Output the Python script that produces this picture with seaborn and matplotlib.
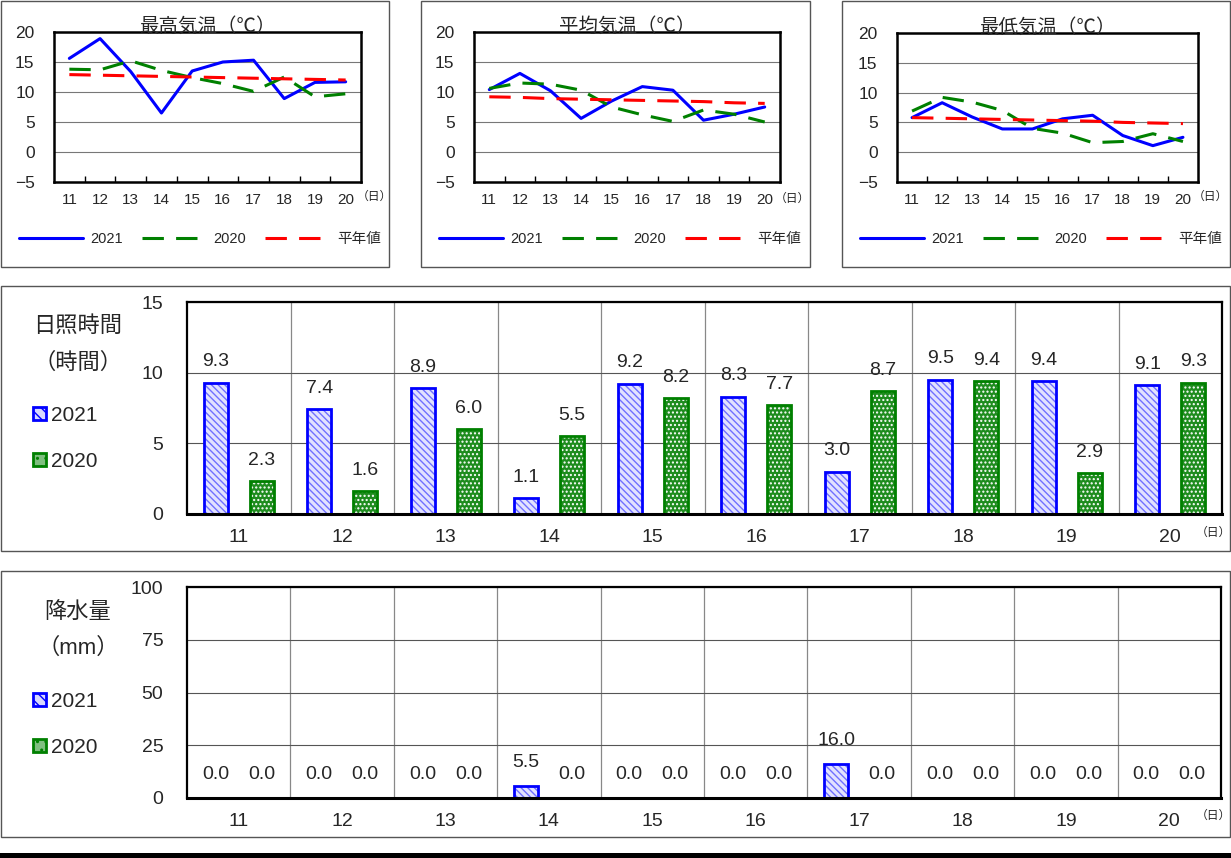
import matplotlib
matplotlib.use('Agg')
import pandas as pd
import matplotlib.pyplot as plt
import seaborn as sns
from matplotlib.patches import Rectangle, Patch

# --- dados (11日〜20日) ---
days = list(range(11, 21))

max_2021 = [15.6, 18.9, 13.4, 6.5, 13.5, 15.0, 15.3, 8.9, 11.6, 11.7]
max_2020 = [13.8, 13.7, 15.2, 13.6, 12.4, 11.4, 10.1, 12.5, 9.2, 9.7]
max_norm = [12.9, 12.8, 12.7, 12.6, 12.5, 12.4, 12.3, 12.2, 12.1, 12.0]

avg_2021 = [10.4, 13.1, 10.2, 5.6, 8.5, 10.9, 10.3, 5.3, 6.3, 7.5]
avg_2020 = [10.6, 11.5, 11.3, 10.3, 7.5, 6.2, 5.1, 7.0, 6.3, 5.0]
avg_norm = [9.2, 9.1, 8.9, 8.8, 8.7, 8.6, 8.5, 8.4, 8.2, 8.1]

min_2021 = [5.8, 8.3, 5.9, 3.9, 3.9, 5.6, 6.2, 2.8, 1.1, 2.5]
min_2020 = [6.9, 9.2, 8.4, 7.0, 4.0, 3.2, 1.6, 1.8, 3.1, 1.8]
min_norm = [5.8, 5.7, 5.6, 5.5, 5.4, 5.3, 5.2, 5.0, 4.9, 4.8]

sun_2021 = [9.3, 7.4, 8.9, 1.1, 9.2, 8.3, 3.0, 9.5, 9.4, 9.1]
sun_2020 = [2.3, 1.6, 6.0, 5.5, 8.2, 7.7, 8.7, 9.4, 2.9, 9.3]

rain_2021 = [0.0, 0.0, 0.0, 5.5, 0.0, 0.0, 16.0, 0.0, 0.0, 0.0]
rain_2020 = [0.0, 0.0, 0.0, 0.0, 0.0, 0.0, 0.0, 0.0, 0.0, 0.0]

series_names = ['2021', '2020', '平年値']
years = ['2021', '2020']

sns.set_style('white')
plt.rcParams['font.family'] = ['Liberation Sans', 'Noto Sans CJK JP']
plt.rcParams['hatch.linewidth'] = 1.0

W, H = 1231, 858
fig = plt.figure(figsize=(W / 100, H / 100), dpi=100)


def box(l, t, r, b):
    return [l / W, 1 - b / H, (r - l) / W, (b - t) / H]


def frame(l, t, r, b):
    fig.add_artist(Rectangle((l / W, 1 - b / H), (r - l) / W, (b - t) / H,
                             transform=fig.transFigure, fill=False, ec='#555555', lw=1))


line_colors = {'2021': '#0000ff', '2020': '#008000', '平年値': '#ff0000'}
line_dashes = {'2021': '', '2020': (7, 4), '平年値': (7, 4)}


def line_panel(rect, title, v21, v20, vnorm, legend_x, unit_xy):
    ax = fig.add_axes(box(*rect))
    df = pd.DataFrame({'day': days * 3,
                       'value': v21 + v20 + vnorm,
                       'series': ['2021'] * 10 + ['2020'] * 10 + ['平年値'] * 10})
    sns.lineplot(data=df, x='day', y='value', hue='series', style='series',
                 hue_order=series_names, style_order=series_names,
                 palette=line_colors, dashes=line_dashes, linewidth=2.2,
                 legend=False, ax=ax)
    ax.set_xlim(10.5, 20.5)
    ax.set_ylim(-5, 20)
    ax.set_yticks(range(-5, 25, 5))
    ax.set_xticks(days)
    ax.set_xticks([d + 0.5 for d in days[:-1]], minor=True)
    ax.tick_params(axis='x', which='major', length=0, pad=8, labelsize=11)
    ax.tick_params(axis='x', which='minor', direction='in', length=4, width=1, color='black', bottom=True)
    ax.tick_params(axis='y', length=0, pad=14, labelsize=12.5)
    ax.yaxis.grid(True, color='#777777', lw=0.8)
    ax.set_xlabel('')
    ax.set_ylabel('')
    for s in ax.spines.values():
        s.set_color('black')
        s.set_linewidth(1.8)
    ax.set_title(title, fontsize=14, pad=0)
    ax.legend(ax.get_lines()[:3], series_names, loc='center', ncol=3,
              bbox_to_anchor=(legend_x / W, 1 - 239 / H), bbox_transform=fig.transFigure,
              frameon=False, fontsize=10.5, handlelength=4.4, handletextpad=0.5,
              columnspacing=1.3)
    fig.text(unit_xy[0] / W, 1 - unit_xy[1] / H, '（日）', fontsize=8.5, ha='center', va='center')
    return ax


frame(1, 1, 389, 267)
frame(421, 1, 810, 267)
frame(842, 1, 1230, 267)
frame(1, 286, 1230, 551)
frame(1, 571, 1230, 837)

line_panel((54, 32, 361, 182), '最高気温（℃）', max_2021, max_2020, max_norm, 200, (374, 197))
line_panel((474, 32, 780, 182), '平均気温（℃）', avg_2021, avg_2020, avg_norm, 620, (792, 199))
line_panel((897, 33, 1198, 182), '最低気温（℃）', min_2021, min_2020, min_norm, 1041, (1210, 197))

bar_styles = {
    '2021': dict(face='#e2e2ff', hatch='\\\\\\\\\\', hatchcolor='#7070ff', edge='#0000ff'),
    '2020': dict(face='#1e8c1e', hatch='....', hatchcolor='white', edge='#008000'),
}


def bar_panel(rect, v21, v20, ymax, ystep, label_lines, label_y, legend_y, unit_y, lab_pad):
    ax = fig.add_axes(box(*rect))
    df = pd.DataFrame({'day': [str(d) for d in days] * 2,
                       'value': v21 + v20,
                       'year': ['2021'] * 10 + ['2020'] * 10})
    sns.barplot(data=df, x='day', y='value', hue='year', hue_order=years,
                palette={'2021': '#0000ff', '2020': '#008000'}, saturation=1,
                width=0.89, gap=0.48, legend=False, ax=ax)
    for cont, yr in zip(ax.containers, years):
        st = bar_styles[yr]
        for bar in cont:
            bar.set_facecolor(st['face'])
            bar.set_hatch(st['hatch'])
            bar.set_edgecolor(st['hatchcolor'])
            bar.set_linewidth(0)
            if bar.get_height() > 0:
                ax.add_patch(Rectangle(bar.get_xy(), bar.get_width(), bar.get_height(),
                                       fill=False, ec=st['edge'], lw=2, zorder=1.5))
        ax.bar_label(cont, fmt='%.1f', padding=lab_pad, fontsize=14)
    ax.set_xlim(-0.5, 9.5)
    ax.set_ylim(0, ymax)
    ax.set_yticks(range(0, ymax + 1, ystep))
    ax.set_xticks([i + 0.5 for i in range(9)], minor=True)
    ax.tick_params(axis='x', which='both', length=0, pad=11, labelsize=14)
    ax.tick_params(axis='y', length=0, pad=17, labelsize=14)
    ax.yaxis.grid(True, color='#555555', lw=0.8)
    ax.xaxis.grid(True, which='minor', color='#888888', lw=0.9)
    ax.set_axisbelow(True)
    ax.set_xlabel('')
    ax.set_ylabel('')
    for s in ax.spines.values():
        s.set_color('black')
        s.set_linewidth(1.6)
    ax.spines['bottom'].set_linewidth(2.2)

    fig.text(78 / W, 1 - label_y[0] / H, label_lines[0], fontsize=16, ha='center', va='center')
    fig.text(78 / W, 1 - label_y[1] / H, label_lines[1], fontsize=16, ha='center', va='center')
    handles = [Patch(facecolor='#d8d8ff', edgecolor='#0000ff', hatch='\\\\\\', lw=2),
               Patch(facecolor='#7fbf7f', edgecolor='#008000', hatch='..', lw=2)]
    ax.legend(handles, years, loc='upper left', bbox_to_anchor=(33 / W, 1 - legend_y / H),
              bbox_transform=fig.transFigure, frameon=False, fontsize=15,
              handlelength=0.6, handleheight=0.6, handletextpad=0.25, labelspacing=1.3,
              borderpad=0, borderaxespad=0)
    fig.text(1213 / W, 1 - unit_y / H, '（日）', fontsize=8.5, ha='center', va='center')
    return ax


bar_panel((187, 302, 1222, 514), sun_2021, sun_2020, 15, 5,
          ['日照時間', '（時間）'], (326, 363), 406, 533, 9)
bar_panel((187, 587, 1221, 798), rain_2021, rain_2020, 100, 25,
          ['降水量', '（mm）'], (612, 648), 692, 816, 11)

fig.add_artist(Rectangle((0, 0), 1, 5 / H, transform=fig.transFigure, color='black', lw=0))

plt.savefig('out.png', dpi=100)
